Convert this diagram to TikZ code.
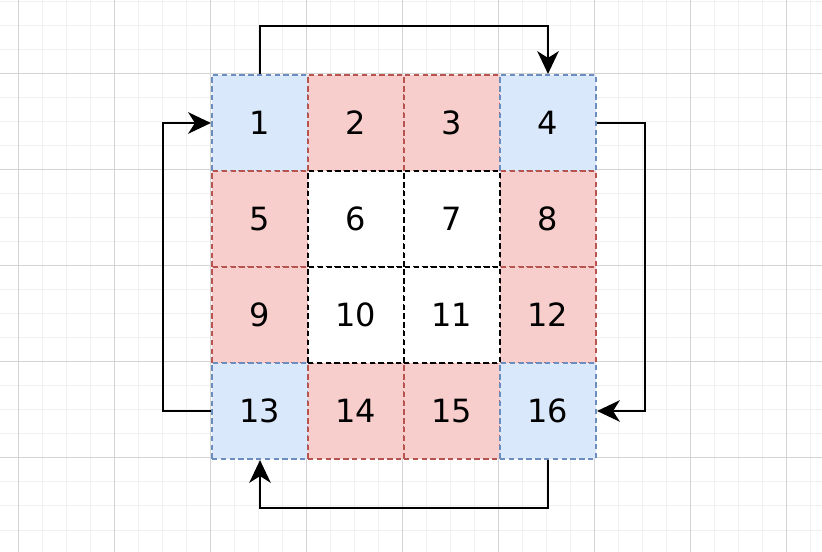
\documentclass[tikz,border=0pt]{standalone}
\usepackage{fontspec}
\setmainfont{DejaVu Sans}
\usetikzlibrary{arrows.meta}
\definecolor{minorgrid}{HTML}{F0F0F0}
\definecolor{majorgrid}{HTML}{D4D4D4}
\definecolor{bluefill}{HTML}{DAE8FC}
\definecolor{bluedraw}{HTML}{6C8EBF}
\definecolor{redfill}{HTML}{F8CECC}
\definecolor{reddraw}{HTML}{B85450}
\tikzset{
  cell/.style={rectangle, inner sep=0pt, minimum width=72pt, minimum height=72pt,
    line width=1.6pt, dash pattern=on 4pt off 2.6pt,
    font=\fontsize{24}{28}\selectfont},
  corner/.style={cell, fill=bluefill, draw=bluedraw},
  edgecell/.style={cell, fill=redfill, draw=reddraw},
  midcell/.style={cell, fill=white, draw=black},
  conn/.style={line width=2.1pt, draw=black, -{Stealth[length=17pt, width=16pt, inset=5pt]}},
}
\begin{document}
\begin{tikzpicture}[x=0.75pt, y=-0.75pt]
\useasboundingbox (0,0) rectangle (822,552);
\fill[white] (0,0) rectangle (822,552);
% grid
\foreach \gx in {18,42,...,810} \draw[minorgrid, line width=0.75pt] (\gx,0) -- (\gx,552);
\foreach \gy in {2,26,...,550} \draw[minorgrid, line width=0.75pt] (0,\gy) -- (822,\gy);
\foreach \gx in {18,114,...,786} \draw[majorgrid, line width=0.75pt] (\gx,0) -- (\gx,552);
\foreach \gy in {74,170,...,550} \draw[majorgrid, line width=0.75pt] (0,\gy) -- (822,\gy);
% cells
\node[corner]   (c1)  at (260,123) {1};
\node[edgecell] (c2)  at (356,123) {2};
\node[edgecell] (c3)  at (452,123) {3};
\node[corner]   (c4)  at (548,123) {4};
\node[edgecell] (c5)  at (260,219) {5};
\node[edgecell] (c8)  at (548,219) {8};
\node[edgecell] (c9)  at (260,315) {9};
\node[edgecell] (c12) at (548,315) {12};
\node[corner]   (c13) at (260,411) {13};
\node[edgecell] (c14) at (356,411) {14};
\node[edgecell] (c15) at (452,411) {15};
\node[corner]   (c16) at (548,411) {16};
\node[midcell]  (c6)  at (356,219) {6};
\node[midcell]  (c7)  at (452,219) {7};
\node[midcell]  (c10) at (356,315) {10};
\node[midcell]  (c11) at (452,315) {11};
% connectors
\draw[conn] (c1.north) -- ++(0,-48) -| (c4.north);
\draw[conn] (c4.east) -- ++(48,0) |- (c16.east);
\draw[conn] (c16.south) -- ++(0,48) -| (c13.south);
\draw[conn] (c13.west) -- ++(-48,0) |- (c1.west);
\end{tikzpicture}
\end{document}
